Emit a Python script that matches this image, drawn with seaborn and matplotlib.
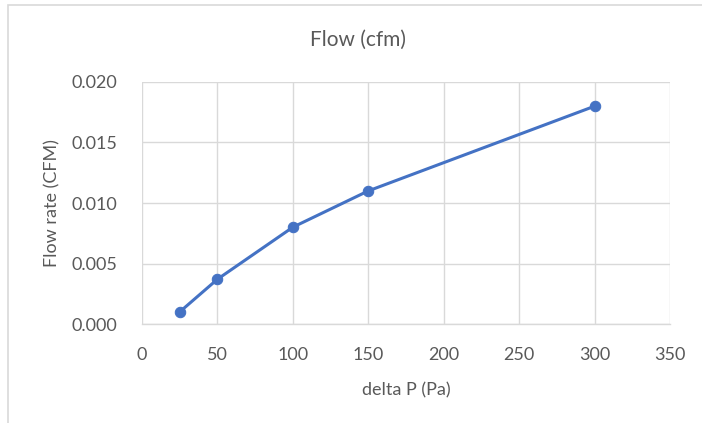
import matplotlib
matplotlib.use("Agg")
import matplotlib.pyplot as plt
import seaborn as sns
import pandas as pd
from matplotlib.patches import Rectangle

delta_p = [25, 50, 100, 150, 300]
flow = [0.001, 0.0037, 0.008, 0.011, 0.018]
x_ticks = [0, 50, 100, 150, 200, 250, 300, 350]
y_ticks = [0.000, 0.005, 0.010, 0.015, 0.020]

sns.set_style("white")
plt.rcParams['font.family'] = ['Lato', 'DejaVu Sans']

df = pd.DataFrame({"delta P (Pa)": delta_p, "Flow rate (CFM)": flow})

fig = plt.figure(figsize=(7.02, 4.23), dpi=100)
W, H = 702, 423
ax = fig.add_axes([142 / W, (H - 324) / H, (670 - 142) / W, (324 - 82) / H])

sns.lineplot(data=df, x="delta P (Pa)", y="Flow rate (CFM)", ax=ax,
             color="#4472C4", linewidth=2.2, marker="o", markersize=7.5,
             markeredgecolor="#4472C4", zorder=3)

ax.set_xlim(0, 350)
ax.set_ylim(0, 0.020)
ax.set_xticks(x_ticks)
ax.set_yticks(y_ticks)
ax.set_yticklabels([f"{v:.3f}" for v in y_ticks])
ax.grid(True, color="#D9D9D9", linewidth=1.0)
for s in ["top", "right", "left"]:
    ax.spines[s].set_visible(False)
ax.spines["bottom"].set_color("#D9D9D9")
ax.spines["bottom"].set_linewidth(1.0)
ax.tick_params(axis="both", length=0, labelsize=13, labelcolor="#595959")
ax.tick_params(axis="x", pad=16.5)
ax.tick_params(axis="y", pad=18)
ax.set_xlabel("delta P (Pa)", fontsize=13, color="#595959", labelpad=14)
ax.set_ylabel("Flow rate (CFM)", fontsize=13, color="#595959", labelpad=8)
fig.text(358 / W, 1 - 40 / H, "Flow (cfm)", ha="center", va="center",
         fontsize=15, color="#595959")

fig.patches.append(Rectangle((8 / W, -0.05), 1.1, 1 - 5 / H + 0.05,
                             transform=fig.transFigure, fill=False,
                             edgecolor="#D9D9D9", linewidth=1.2))

fig.savefig("out.png", dpi=100)
